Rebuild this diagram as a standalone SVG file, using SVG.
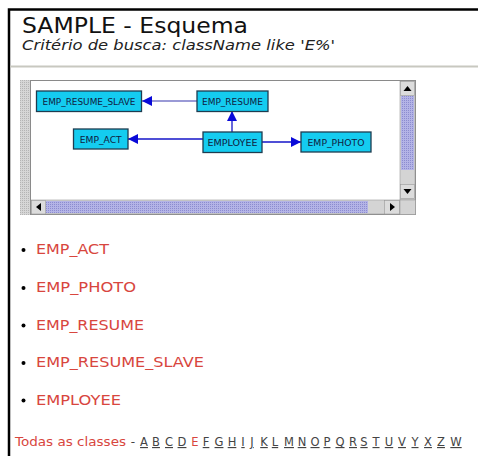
<svg xmlns="http://www.w3.org/2000/svg" width="478" height="456" viewBox="0 0 478 456">
<style>
.t{font-family:"DejaVu Sans",Verdana,sans-serif}
.node rect{fill:#14ccf0;stroke:#1e3c50;stroke-width:1.3}
.node text{font-family:"DejaVu Sans",sans-serif;font-size:8.5px;fill:#102040;text-anchor:middle}
.li{font-family:"DejaVu Sans",sans-serif;font-size:14px;fill:#d8463e}
.ltr{font-family:"DejaVu Sans",sans-serif;font-size:11.5px;fill:#444;text-decoration:underline;text-anchor:middle}
</style>
<defs>
<marker id="ah" viewBox="0 0 10 10" refX="10" refY="5" markerWidth="10" markerHeight="10" markerUnits="userSpaceOnUse" orient="auto">
<path d="M0,0 L10,5 L0,10 z" fill="#0a0ad8"/>
</marker>
<pattern id="dots" width="2" height="2" patternUnits="userSpaceOnUse">
<rect width="2" height="2" fill="#d6d6d6"/><rect width="1" height="1" fill="#b4b4b4"/>
</pattern>
<pattern id="lav" width="2" height="2" patternUnits="userSpaceOnUse">
<rect width="2" height="2" fill="#b4b4e6"/><rect width="1" height="1" fill="#8c8cd0"/>
</pattern>
</defs>
<rect width="478" height="456" fill="#fff"/>
<!-- page frame -->
<path d="M9,456 V9.5 H478" fill="none" stroke="#000" stroke-width="2.5"/>
<text class="t" x="22" y="33" font-size="21.5" fill="#111" textLength="226" lengthAdjust="spacingAndGlyphs">SAMPLE - Esquema</text>
<text class="t" x="22" y="50" font-size="14" font-style="italic" fill="#222" textLength="313" lengthAdjust="spacingAndGlyphs">Critério de busca: className like 'E%'</text>
<line x1="10" y1="66.5" x2="478" y2="66.5" stroke="#c8c8c0" stroke-width="2"/>
<!-- applet -->
<rect x="20" y="80" width="10" height="135" fill="url(#dots)"/>
<rect x="30.5" y="80.5" width="385" height="134" fill="#fff" stroke="#8a8a8a"/>
<!-- vertical scrollbar -->
<rect x="400" y="81" width="15" height="119" fill="#d4d4d4" stroke="#999" stroke-width="0.6"/>
<rect x="400.5" y="81.5" width="14" height="14" fill="#dcdcdc" stroke="#999" stroke-width="0.6"/>
<path d="M403.5,91 L407.5,86 L411.5,91 z" fill="#000"/>
<rect x="401" y="96" width="13" height="74" fill="url(#lav)"/>
<rect x="400.5" y="184.5" width="14" height="14" fill="#dcdcdc" stroke="#999" stroke-width="0.6"/>
<path d="M403.5,189 L407.5,194 L411.5,189 z" fill="#000"/>
<!-- horizontal scrollbar -->
<rect x="31" y="200" width="369" height="14" fill="#d4d4d4" stroke="#999" stroke-width="0.6"/>
<rect x="31.5" y="200.5" width="14" height="13.5" fill="#dcdcdc" stroke="#999" stroke-width="0.6"/>
<path d="M41,203 L36,207 L41,211 z" fill="#000"/>
<rect x="46" y="201" width="322" height="12" fill="url(#lav)"/>
<rect x="384.5" y="200.5" width="15" height="13.5" fill="#dcdcdc" stroke="#999" stroke-width="0.6"/>
<path d="M390,203 L395,207 L390,211 z" fill="#000"/>
<rect x="400" y="200" width="15.5" height="14.5" fill="#d4d4d4" stroke="#999" stroke-width="0.6"/>
<!-- connectors -->
<g id="connectors" fill="none" stroke-width="1.3">
<line x1="197" y1="101" x2="142" y2="101" stroke="#7878c8" marker-end="url(#ah)"/>
<line x1="203" y1="139" x2="128" y2="139" stroke="#1414c8" marker-end="url(#ah)"/>
<line x1="232" y1="132" x2="232" y2="111" stroke="#1414c8" marker-end="url(#ah)"/>
<line x1="262" y1="142" x2="301" y2="142" stroke="#1414c8" marker-end="url(#ah)"/>
</g>
<g id="n_slave" class="node"><rect x="36.5" y="91" width="105" height="20.5"/><text x="89" y="104.5" textLength="93" lengthAdjust="spacingAndGlyphs">EMP_RESUME_SLAVE</text></g>
<g id="n_act" class="node"><rect x="73.5" y="129" width="54.5" height="20"/><text x="100.7" y="142.5" textLength="42" lengthAdjust="spacingAndGlyphs">EMP_ACT</text></g>
<g id="n_resume" class="node"><rect x="197" y="91" width="71" height="20.5"/><text x="232.5" y="104.5" textLength="61" lengthAdjust="spacingAndGlyphs">EMP_RESUME</text></g>
<g id="n_employee" class="node"><rect x="203" y="132" width="59" height="20.5"/><text x="232.5" y="145.5" textLength="50" lengthAdjust="spacingAndGlyphs">EMPLOYEE</text></g>
<g id="n_photo" class="node"><rect x="301" y="132" width="70" height="20"/><text x="336" y="145.5" textLength="57" lengthAdjust="spacingAndGlyphs">EMP_PHOTO</text></g>
<!-- list -->
<g fill="#000"><circle cx="23.5" cy="250" r="2"/><circle cx="23.5" cy="288" r="2"/><circle cx="23.5" cy="325.5" r="2"/><circle cx="23.5" cy="363" r="2"/><circle cx="23.5" cy="400.5" r="2"/></g>
<text class="li" x="36" y="254" textLength="73" lengthAdjust="spacingAndGlyphs">EMP_ACT</text>
<text class="li" x="36" y="292" textLength="100" lengthAdjust="spacingAndGlyphs">EMP_PHOTO</text>
<text class="li" x="36" y="329.5" textLength="108" lengthAdjust="spacingAndGlyphs">EMP_RESUME</text>
<text class="li" x="36" y="367" textLength="168" lengthAdjust="spacingAndGlyphs">EMP_RESUME_SLAVE</text>
<text class="li" x="36" y="404.5" textLength="85" lengthAdjust="spacingAndGlyphs">EMPLOYEE</text>
<!-- alphabet -->
<text x="15" y="446" font-family="DejaVu Sans,sans-serif" font-size="12" fill="#d8463e" textLength="111" lengthAdjust="spacingAndGlyphs">Todas as classes</text>
<text x="133" y="446" font-family="DejaVu Sans,sans-serif" font-size="12" fill="#444" text-anchor="middle">-</text>
<text class="ltr" x="144" y="446">A</text>
<text class="ltr" x="156" y="446">B</text>
<text class="ltr" x="169" y="446">C</text>
<text class="ltr" x="182" y="446">D</text>
<text class="ltr" x="195" y="446" style="fill:#d8463e;text-decoration:none">E</text>
<text class="ltr" x="206" y="446">F</text>
<text class="ltr" x="219" y="446">G</text>
<text class="ltr" x="232" y="446">H</text>
<text class="ltr" x="243" y="446">I</text>
<text class="ltr" x="252" y="446">J</text>
<text class="ltr" x="264" y="446">K</text>
<text class="ltr" x="275" y="446">L</text>
<text class="ltr" x="289" y="446">M</text>
<text class="ltr" x="302" y="446">N</text>
<text class="ltr" x="315" y="446">O</text>
<text class="ltr" x="327" y="446">P</text>
<text class="ltr" x="340" y="446">Q</text>
<text class="ltr" x="353" y="446">R</text>
<text class="ltr" x="364" y="446">S</text>
<text class="ltr" x="376" y="446">T</text>
<text class="ltr" x="389" y="446">U</text>
<text class="ltr" x="402" y="446">V</text>
<text class="ltr" x="415" y="446">Y</text>
<text class="ltr" x="428" y="446">X</text>
<text class="ltr" x="441" y="446">Z</text>
<text class="ltr" x="456" y="446">W</text>
</svg>
